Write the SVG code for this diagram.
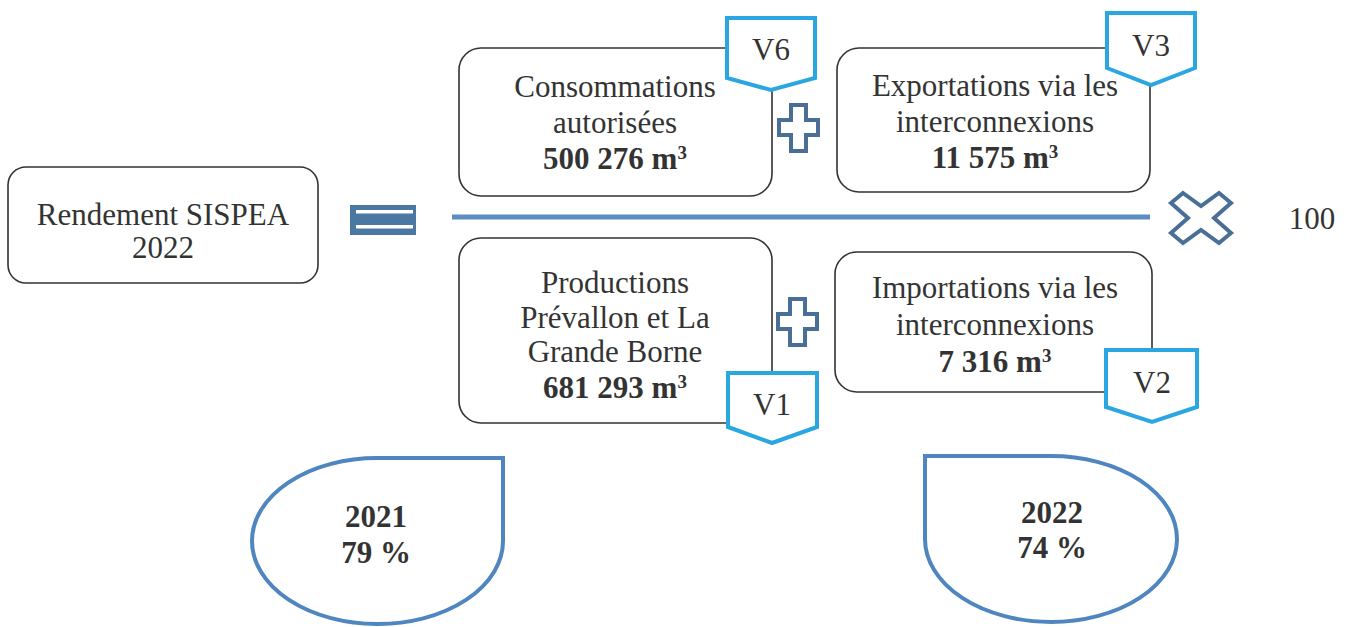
<svg xmlns="http://www.w3.org/2000/svg" width="1348" height="627" viewBox="0 0 1348 627">
<style>
  .box { fill: #ffffff; stroke: #333333; stroke-width: 1.6; }
  .tag { fill: #ffffff; stroke: #2aa7e0; stroke-width: 4; stroke-linejoin: miter; }
  .op { fill: #ffffff; stroke: #4a6f96; stroke-width: 4; stroke-linejoin: miter; }
  .drop { fill: #ffffff; stroke: #4f86bf; stroke-width: 4; }
  .t { font-family: "Liberation Serif", "Times New Roman", serif; font-size: 31px; fill: #333333; text-anchor: middle; }
  .b { font-weight: bold; }
  .sup { font-size: 19px; }
</style>
<rect width="1348" height="627" fill="#ffffff"/>

<g id="connectors">
  <line x1="452" y1="217" x2="1150" y2="217" stroke="#5b8dc2" stroke-width="5"/>
</g>

<g id="rendement">
  <rect class="box" x="8" y="167" width="310" height="116" rx="18"/>
  <text class="t" x="163" y="225">Rendement SISPEA</text>
  <text class="t" x="163" y="258">2022</text>
</g>

<g id="equals">
  <rect x="350" y="205" width="66" height="30" fill="#4b77a3"/>
  <rect x="356" y="210" width="57" height="3.5" fill="#ffffff"/>
  <rect x="356" y="225" width="57" height="3.5" fill="#ffffff"/>
</g>

<g id="consommations">
  <rect class="box" x="459" y="48" width="313" height="148" rx="22"/>
  <text class="t" x="615" y="97">Consommations</text>
  <text class="t" x="615" y="133">autorisées</text>
  <text class="t b" x="615" y="169">500 276 m<tspan class="sup" dy="-10">3</tspan></text>
</g>
<g id="v6">
  <polygon class="tag" points="727,18 815,18 815,78 771,90 727,78"/>
  <text class="t" x="771" y="60">V6</text>
</g>

<g id="plus-top">
  <polygon class="op" points="791,105 806,105 806,120 818,120 818,135 806,135 806,151 791,151 791,135 779,135 779,120 791,120"/>
</g>

<g id="exportations">
  <rect class="box" x="837" y="48" width="313" height="144" rx="22"/>
  <text class="t" x="995" y="96">Exportations via les</text>
  <text class="t" x="995" y="132">interconnexions</text>
  <text class="t b" x="995" y="168">11 575 m<tspan class="sup" dy="-10">3</tspan></text>
</g>
<g id="v3">
  <polygon class="tag" points="1107,13 1195,13 1195,68 1151,85 1107,68"/>
  <text class="t" x="1151" y="56">V3</text>
</g>

<g id="times">
  <polygon class="op" points="1183,193 1201,206 1219,193 1231,203 1214,218 1231,233 1219,243 1201,230 1183,243 1171,233 1188,218 1171,203"/>
</g>
<g id="hundred">
  <text class="t" x="1312" y="229">100</text>
</g>

<g id="productions">
  <rect class="box" x="459" y="238" width="313" height="185" rx="22"/>
  <text class="t" x="615" y="293">Productions</text>
  <text class="t" x="615" y="328">Prévallon et La</text>
  <text class="t" x="615" y="362">Grande Borne</text>
  <text class="t b" x="615" y="398">681 293 m<tspan class="sup" dy="-10">3</tspan></text>
</g>
<g id="v1">
  <polygon class="tag" points="728,373 817,373 817,427 772,443 728,427"/>
  <text class="t" x="772" y="415">V1</text>
</g>

<g id="plus-bottom">
  <polygon class="op" points="790,299 805,299 805,314 817,314 817,329 805,329 805,345 790,345 790,329 778,329 778,314 790,314"/>
</g>

<g id="importations">
  <rect class="box" x="835" y="252" width="317" height="140" rx="22"/>
  <text class="t" x="995" y="298">Importations via les</text>
  <text class="t" x="995" y="335">interconnexions</text>
  <text class="t b" x="995" y="372">7 316 m<tspan class="sup" dy="-10">3</tspan></text>
</g>
<g id="v2">
  <polygon class="tag" points="1106,350 1197,350 1197,407 1152,422 1106,407"/>
  <text class="t" x="1152" y="393">V2</text>
</g>

<g id="drop-2021">
  <path class="drop" d="M 252,541 A 125,83 0 0 1 377,458 L 503,458 L 503,541 A 125,83 0 0 1 377,624 A 125,83 0 0 1 252,541 Z"/>
  <text class="t b" x="376" y="527">2021</text>
  <text class="t b" x="376" y="563">79 %</text>
</g>

<g id="drop-2022">
  <path class="drop" d="M 925,456 L 1051,456 A 126,83 0 0 1 1177,539 A 126,83 0 0 1 1051,622 A 126,83 0 0 1 925,539 Z"/>
  <text class="t b" x="1052" y="523">2022</text>
  <text class="t b" x="1052" y="558">74 %</text>
</g>
</svg>
